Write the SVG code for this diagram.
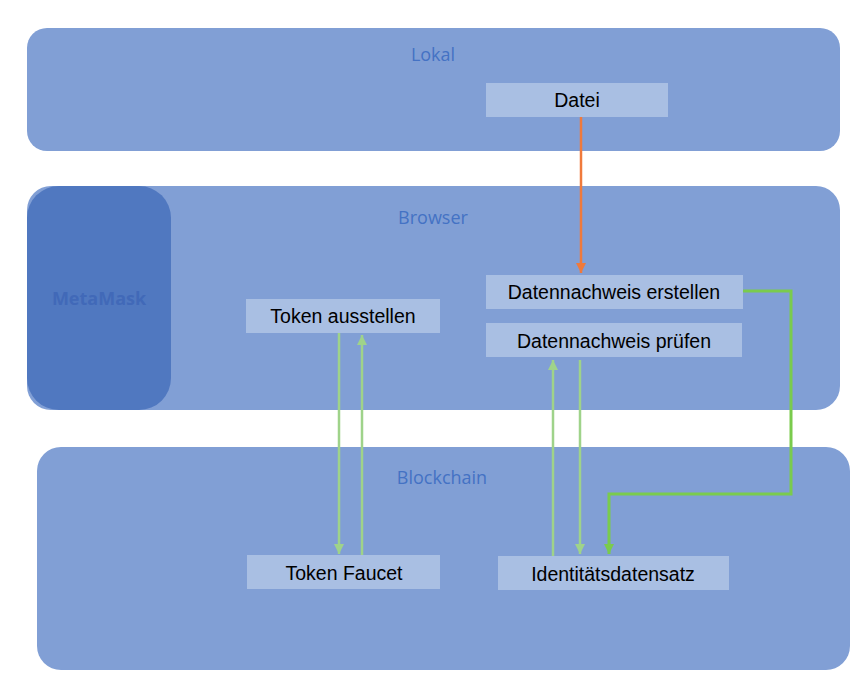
<svg xmlns="http://www.w3.org/2000/svg" width="868" height="694" viewBox="0 0 868 694">
<style>
.panel{fill:#819fd5}
.box{fill:#a9bfe3}
.title{font-family:"Open Sans","Lato",sans-serif;font-size:18px;fill:#4472c4;text-anchor:middle}
.lbl{font-family:"Liberation Sans",Arial,sans-serif;font-size:19.5px;fill:#000;text-anchor:middle}
.lg{stroke:#9fd38a;stroke-width:2.5;fill:none}
.dg{stroke:#7acb4d;stroke-width:3;fill:none}
</style>
<defs>
<marker id="ah-lg" viewBox="0 0 10 10" refX="10" refY="5" markerWidth="4" markerHeight="4" orient="auto" markerUnits="strokeWidth"><path d="M0,0 L10,5 L0,10 z" fill="#9fd38a"/></marker>
<marker id="ah-dg" viewBox="0 0 10 10" refX="10" refY="5" markerWidth="3.5" markerHeight="3.5" orient="auto" markerUnits="strokeWidth"><path d="M0,0 L10,5 L0,10 z" fill="#7acb4d"/></marker>
<marker id="ah-or" viewBox="0 0 10 10" refX="10" refY="5" markerWidth="4" markerHeight="4" orient="auto" markerUnits="strokeWidth"><path d="M0,0 L10,5 L0,10 z" fill="#f07a3c"/></marker>
</defs>
<g id="lokal"><rect class="panel" x="27" y="28" width="813" height="123" rx="20"/><text class="title" x="433" y="61">Lokal</text></g>
<g id="browser"><rect class="panel" x="27" y="186" width="813" height="224" rx="24"/><text class="title" x="433" y="224">Browser</text></g>
<g id="metamask"><rect x="27" y="186" width="144" height="224" rx="32" fill="#5078c0"/><text x="99" y="305" font-family="'Open Sans','Lato',sans-serif" font-size="18" font-weight="bold" fill="#4169b8" text-anchor="middle">MetaMask</text></g>
<g id="blockchain"><rect class="panel" x="37" y="447" width="813" height="223" rx="24"/><text class="title" x="442" y="484">Blockchain</text></g>
<g id="datei"><rect class="box" x="486" y="83" width="182" height="34"/><text class="lbl" x="577" y="107">Datei</text></g>
<g id="erstellen"><rect class="box" x="486" y="275" width="257" height="34"/><text class="lbl" x="614" y="299">Datennachweis erstellen</text></g>
<g id="pruefen"><rect class="box" x="486" y="323" width="256" height="34"/><text class="lbl" x="614" y="348">Datennachweis prüfen</text></g>
<g id="token-ausstellen"><rect class="box" x="246" y="299" width="194" height="34"/><text class="lbl" x="343" y="323">Token ausstellen</text></g>
<g id="token-faucet"><rect class="box" x="247" y="555" width="193" height="34"/><text class="lbl" x="344" y="580">Token Faucet</text></g>
<g id="identitaet"><rect class="box" x="498" y="556" width="231" height="34"/><text class="lbl" x="613" y="581">Identitätsdatensatz</text></g>
<g id="connectors">
<line x1="581" y1="117" x2="581" y2="273" stroke="#f07a3c" stroke-width="2.5" marker-end="url(#ah-or)"/>
<polyline class="dg" points="743,291 791,291 791,494 609,494 609,554" marker-end="url(#ah-dg)"/>
<line class="lg" x1="580" y1="360" x2="580" y2="554" stroke-width="3" marker-end="url(#ah-lg)"/>
<line class="lg" x1="553" y1="556" x2="553" y2="360" marker-end="url(#ah-lg)"/>
<line class="lg" x1="339" y1="333" x2="339" y2="554" marker-end="url(#ah-lg)"/>
<line class="lg" x1="362" y1="555" x2="362" y2="335" marker-end="url(#ah-lg)"/>
</g>
</svg>
